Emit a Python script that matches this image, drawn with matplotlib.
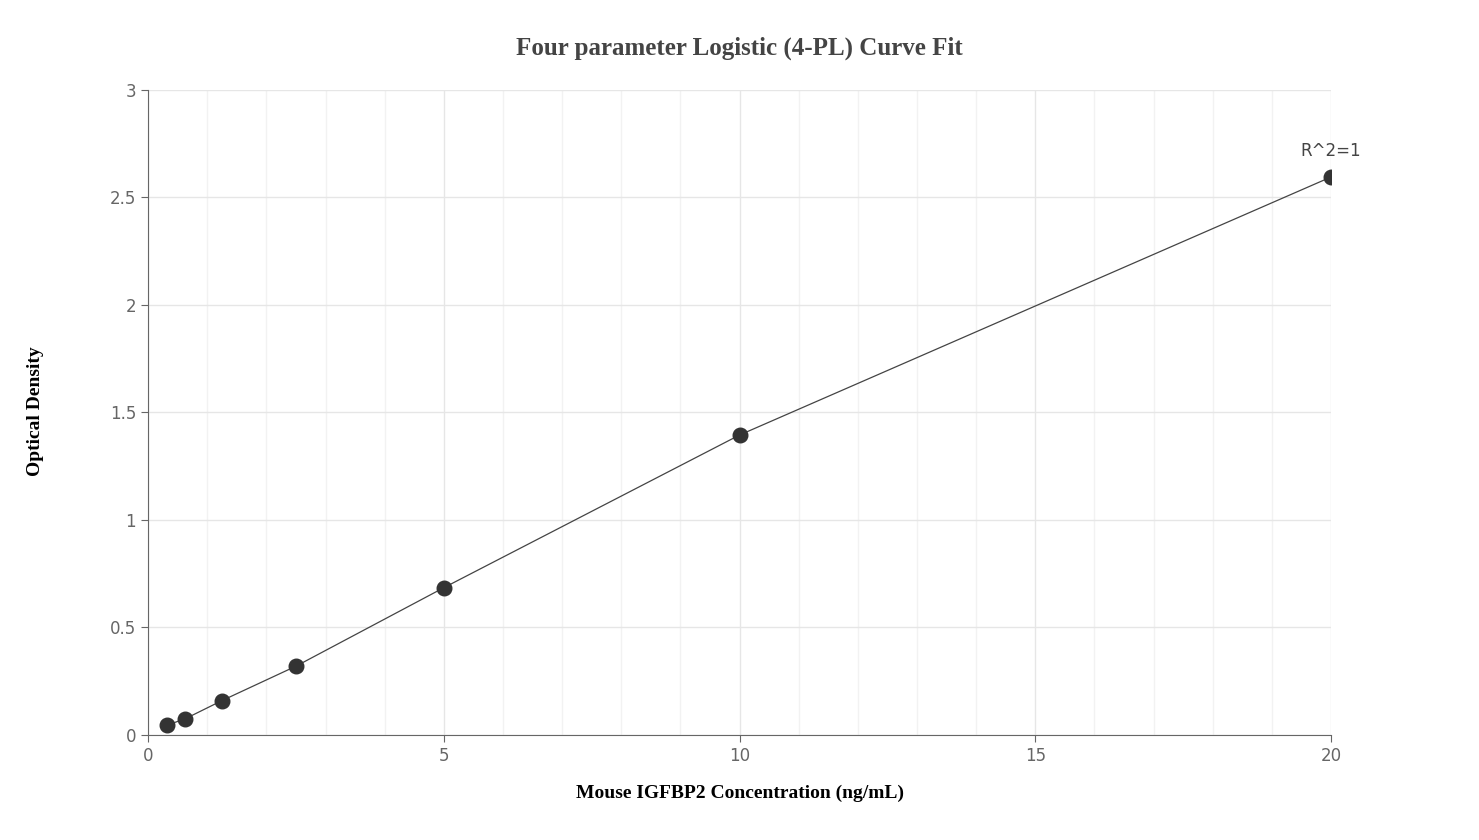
import matplotlib
matplotlib.use("Agg")
import matplotlib.pyplot as plt
from matplotlib.ticker import MultipleLocator

conc = [0.3125, 0.625, 1.25, 2.5, 5, 10, 20]
od = [0.045, 0.075, 0.16, 0.32, 0.685, 1.395, 2.595]
x_ticks = [0, 5, 10, 15, 20]
y_ticks = [0, 0.5, 1, 1.5, 2, 2.5, 3]

fig = plt.figure(figsize=(14.79, 8.40), dpi=100)
ax = fig.add_axes([0.1001, 0.125, 0.7999, 0.768])
ax.set_xlim(0, 20)
ax.set_ylim(0, 3)
ax.set_xticks(x_ticks)
ax.set_yticks(y_ticks)
ax.set_yticklabels([f"{v:g}" for v in y_ticks])
ax.xaxis.set_minor_locator(MultipleLocator(1))
ax.grid(which="major", color="#e6e6e6", lw=1)
ax.grid(which="minor", axis="x", color="#f2f2f2", lw=1)
ax.set_axisbelow(True)
for s in ["top", "right"]:
    ax.spines[s].set_visible(False)
for s in ["left", "bottom"]:
    ax.spines[s].set_color("#666666")
ax.tick_params(which="minor", length=0)
ax.tick_params(which="major", colors="#666666", labelsize=12, length=5)

ax.plot(conc, od, color="#444444", lw=0.9)
ax.scatter(conc, od, s=110, color="#333333", zorder=3)
ax.annotate("R^2=1", (conc[-1], od[-1]), xytext=(0, 12), textcoords="offset points",
            ha="center", va="bottom", fontsize=12, color="#444444")

fig.text(0.5, 0.942, "Four parameter Logistic (4-PL) Curve Fit", ha="center", va="center",
         fontsize=18, fontweight="bold", family="Liberation Serif", color="#444444")
ax.set_xlabel("Mouse IGFBP2 Concentration (ng/mL)", fontsize=14, fontweight="bold",
              family="Liberation Serif", labelpad=14)
fig.text(0.024, 0.51, "Optical Density", rotation=90, ha="center", va="center",
         fontsize=14, fontweight="bold", family="Liberation Serif")
fig.savefig("out.png", dpi=100)
